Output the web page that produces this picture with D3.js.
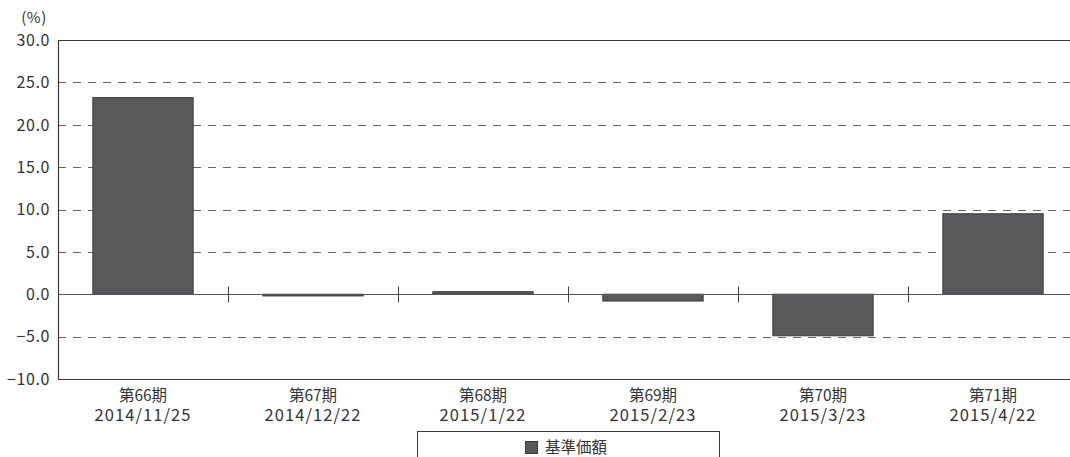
<!DOCTYPE html>
<html>
<head>
<meta charset="utf-8">
<script src="https://cdn.jsdelivr.net/npm/d3@7"></script>
<style>
    html, body { margin: 0; padding: 0; background: #fff; }
    svg { display: block; }
    text { font-family: "Noto Sans CJK JP", "Noto Sans", sans-serif; fill: #333; }
</style>
</head>
<body>
<div class="displayArea"></div>
<script>
// データ
const periods = ["第66期", "第67期", "第68期", "第69期", "第70期", "第71期"];
const dates = ["2014/11/25", "2014/12/22", "2015/1/22", "2015/2/23", "2015/3/23", "2015/4/22"];
const values = [23.2, -0.2, 0.3, -0.8, -4.9, 9.5];
const yTicks = [-10, -5, 0, 5, 10, 15, 20, 25, 30];
const legendLabel = "基準価額";

const width = 1070, height = 457;
const plot = { left: 58, right: 1078, top: 40, bottom: 379 };

// 画布
const svg = d3.select(".displayArea").append("svg")
    .attr("width", width)
    .attr("height", height);

// スケール
const x = d3.scaleBand()
    .domain(periods)
    .range([plot.left, plot.right])
    .paddingInner(0.41)
    .paddingOuter(0.205);

const y = d3.scaleLinear()
    .domain([-10, 30])
    .range([plot.bottom, plot.top]);

// 破線のグリッド
svg.append("g")
    .selectAll("line")
    .data(yTicks.filter(d => d !== 0 && d !== 30 && d !== -10))
    .enter()
    .append("line")
    .attr("x1", plot.left)
    .attr("x2", plot.right)
    .attr("y1", d => Math.round(y(d)) + 0.5)
    .attr("y2", d => Math.round(y(d)) + 0.5)
    .style("stroke", "#666")
    .style("stroke-width", 1)
    .style("stroke-dasharray", "8,7");

// 棒
svg.append("g")
    .selectAll("rect")
    .data(values)
    .enter()
    .append("rect")
    .attr("x", (d, i) => x(periods[i]))
    .attr("width", x.bandwidth())
    .attr("y", d => y(Math.max(0, d)))
    .attr("height", d => Math.abs(y(d) - y(0)))
    .style("fill", "#58595b")
    .style("stroke", "#3a3a3a")
    .style("stroke-width", 1);

// ゼロ線と区切り
const zeroY = Math.round(y(0)) + 0.5;
svg.append("line")
    .attr("x1", plot.left).attr("x2", plot.right)
    .attr("y1", zeroY).attr("y2", zeroY)
    .style("stroke", "#555")
    .style("stroke-width", 1);

svg.append("g")
    .selectAll("line")
    .data(periods.slice(1))
    .enter()
    .append("line")
    .attr("x1", d => Math.round(x(d) - x.step() * x.paddingInner() / 2) + 0.5)
    .attr("x2", d => Math.round(x(d) - x.step() * x.paddingInner() / 2) + 0.5)
    .attr("y1", zeroY - 8)
    .attr("y2", zeroY + 8)
    .style("stroke", "#444")
    .style("stroke-width", 1);

// 枠線（左・上・下）
svg.append("path")
    .attr("d", `M${plot.right},${plot.top + 0.5}H${plot.left + 0.5}V${plot.bottom + 0.5}H${plot.right}`)
    .style("fill", "none")
    .style("stroke", "#3a3a3a")
    .style("stroke-width", 1.2);

// Y軸ラベル
svg.append("g")
    .selectAll("text")
    .data(yTicks)
    .enter()
    .append("text")
    .attr("x", 50)
    .attr("y", d => y(d))
    .attr("dy", "0.36em")
    .attr("text-anchor", "end")
    .style("font-size", "16px")
    .style("letter-spacing", "0.6px")
    .text(d => d3.format(".1f")(d));

svg.append("text")
    .attr("x", 34)
    .attr("y", 18)
    .attr("dy", "0.36em")
    .attr("text-anchor", "middle")
    .style("font-size", "15px")
    .style("letter-spacing", "0.5px")
    .text("(%)");

// X軸ラベル（2行）
const xLabel = svg.append("g")
    .selectAll("g")
    .data(periods)
    .enter()
    .append("g")
    .attr("transform", d => `translate(${x(d) + x.bandwidth() / 2},0)`);

xLabel.append("text")
    .attr("y", 401)
    .attr("text-anchor", "middle")
    .style("font-size", "15.5px")
    .text(d => d);

xLabel.append("text")
    .attr("y", 421)
    .attr("text-anchor", "middle")
    .style("font-size", "16.5px")
    .style("letter-spacing", "1.1px")
    .text((d, i) => dates[i]);

// 凡例
const legend = svg.append("g");
legend.append("rect")
    .attr("x", 417.5).attr("y", 431.5)
    .attr("width", 302).attr("height", 40)
    .style("fill", "#fff")
    .style("stroke", "#3a3a3a")
    .style("stroke-width", 1);
legend.append("rect")
    .attr("x", 525.5).attr("y", 441.5)
    .attr("width", 12).attr("height", 12)
    .style("fill", "#58595b")
    .style("stroke", "#3a3a3a");
legend.append("text")
    .attr("x", 545)
    .attr("y", 447.5)
    .attr("dy", "0.36em")
    .style("font-size", "15.5px")
    .text(legendLabel);
</script>
</body>
</html>
